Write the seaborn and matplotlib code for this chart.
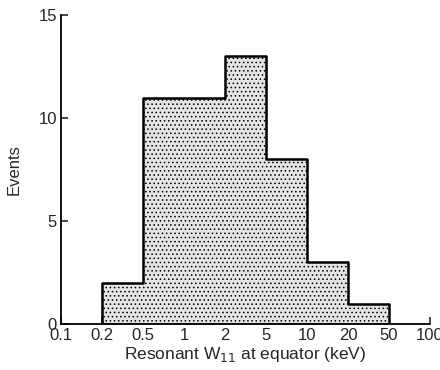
import numpy as np
import pandas as pd
import matplotlib
matplotlib.use("Agg")
import matplotlib.pyplot as plt
import seaborn as sns

# Data
edge_labels = ["0.1", "0.2", "0.5", "1", "2", "5", "10", "20", "50", "100"]
bin_counts = [0, 2, 11, 11, 13, 8, 3, 1, 0]   # counts per interval between consecutive edges

sns.set_style("white")
plt.rcParams["font.family"] = ["Liberation Sans", "DejaVu Sans"]
plt.rcParams["hatch.color"] = "#a8a8a8"
plt.rcParams["hatch.linewidth"] = 0.6

edges = np.arange(len(edge_labels))
centers = edges[:-1] + 0.5
df = pd.DataFrame({"pos": centers, "count": bin_counts})
df = df[df["count"] > 0]

fig = plt.figure(figsize=(4.4, 3.7), dpi=100)
ax = fig.add_axes([0.139, 0.124, 0.838, 0.835])

sns.histplot(data=df, x="pos", weights="count", binwidth=1, binrange=(1, 8), element="step",
             fill=True, color="#e4e4e4", alpha=1.0, edgecolor="black", linewidth=1.8, ax=ax)
for p in ax.collections:
    p.set_hatch("....")
    p.set_edgecolor("black")

ax.set_xlim(0, len(edge_labels) - 1)
ax.set_ylim(0, 15)
ax.set_xticks(edges)
ax.set_xticklabels(edge_labels)
ax.set_yticks([0, 5, 10, 15])
ax.tick_params(axis="both", direction="in", length=5, width=1.2, labelsize=12, pad=3,
               left=True, bottom=True)
ax.set_xlabel("Resonant W$_{11}$ at equator (keV)", fontsize=12.5, labelpad=1)
ax.set_ylabel("Events", fontsize=12, labelpad=12)

sns.despine(ax=ax, top=True, right=True)
for s in ["left", "bottom"]:
    ax.spines[s].set_linewidth(1.3)
    ax.spines[s].set_color("black")

fig.savefig("out.png", dpi=100)
